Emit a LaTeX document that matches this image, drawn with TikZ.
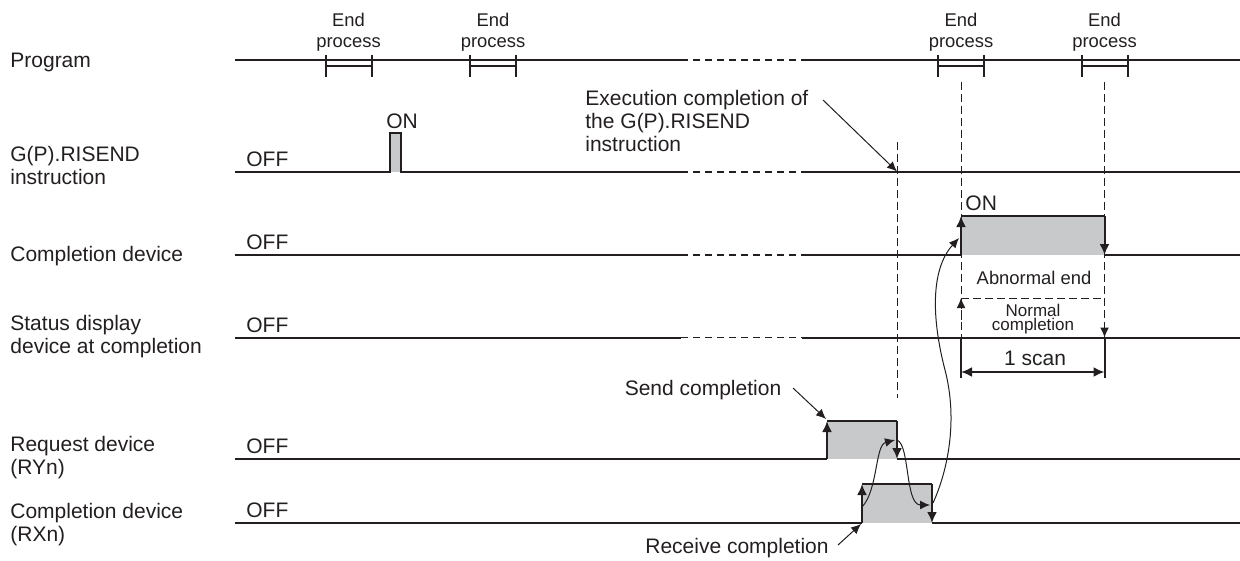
\documentclass[tikz,border=0pt]{standalone}
\usepackage{fontspec}
\setmainfont{Liberation Sans}
\usetikzlibrary{arrows.meta}
\definecolor{TLInk}{HTML}{231F20}
\definecolor{TLGray}{HTML}{C8C9CB}

\begin{document}
\begin{tikzpicture}[x=0.5pt,y=-0.5pt,
        sig/.style={draw=TLInk, line width=1pt},
        gap/.style={draw=TLInk, line width=0.6pt, dash pattern=on 3.5pt off 2.5pt},
        guide/.style={draw=TLInk, line width=0.5pt, dash pattern=on 4pt off 2pt},
        pulse/.style={fill=TLGray},
        edge/.style={draw=TLInk, line width=1pt, -{Latex[length=5.5pt,width=5pt]}},
        hint/.style={draw=TLInk, line width=0.5pt, -{Latex[length=5pt,width=4.4pt]}},
        lab/.style={font=\fontsize{10.5}{11.5}\selectfont, text=TLInk, inner sep=0pt, align=left},
        small/.style={font=\fontsize{9.2}{10.5}\selectfont, text=TLInk, inner sep=0pt, align=center},
      ]
      \useasboundingbox (0,0) rectangle (1240,561);
      \node[lab, anchor=west] (prog) at (10,62) {Program};
      \node[lab, anchor=west] (risend) at (10,165) {G(P).RISEND\\instruction};
      \node[lab, anchor=west] (cdev) at (10,256) {Completion device};
      \node[lab, anchor=west] (sdev) at (10,337) {Status display\\device at completion};
      \node[lab, anchor=west] (rydev) at (10,458) {Request device\\(RYn)};
      \node[lab, anchor=west] (rxdev) at (10,525) {Completion device\\(RXn)};
      \foreach \y/\n in {172/offG,255/offC,337.5/offS,459/offR,523/offX}
        \node[lab, anchor=base west] (\n) at (246,\y-5.5) {OFF};

      \draw[sig] (235,60) -- (681,60) (802,60) -- (1240,60);
      \draw[gap] (681,60) -- (802,60);
      \foreach \x/\n in {348.5/ep1,493/ep2,961/ep3,1104.5/ep4} {
        \draw[sig] (\x-23,55) -- (\x-23,77) (\x+23,55) -- (\x+23,77) (\x-23,66) -- (\x+23,66);
        \node[small] (\n) at (\x,32) {End\\process};
      }

      \fill[pulse] (390,133) rectangle (401,172);
      \draw[sig] (235,172) -- (390,172) -- (390,133) -- (401,133) -- (401,172) -- (681,172) (802,172) -- (1240,172);
      \draw[gap] (681,172) -- (802,172);
      \node[lab] (onG) at (402,121) {ON};

      \fill[pulse] (961,216) rectangle (1104.5,255);
      \draw[sig] (235,255) -- (681,255) (802,255) -- (961,255) (961,216) -- (1104.5,216) (1104.5,255) -- (1240,255);
      \draw[gap] (681,255) -- (802,255);
      \draw[edge] (961,255) -- (961,216);
      \draw[edge] (1104.5,216) -- (1104.5,255);
      \node[lab, anchor=west] (onC) at (965,203) {ON};

      \draw[sig] (235,337.5) -- (681,337.5) (802,337.5) -- (1240,337.5);
      \draw[gap] (681,337.5) -- (802,337.5);

      \draw[guide] (961,82) -- (961,337.5);
      \draw[guide] (1104.5,82) -- (1104.5,337.5);
      \draw[guide] (897,142) -- (897,398);
      \draw[guide] (961,298) -- (1104.5,298);
      \draw[guide, -{Latex[length=5pt,width=4.4pt]}] (961,320) -- (961,298);
      \draw[guide, -{Latex[length=5pt,width=4.4pt]}] (1104.5,310) -- (1104.5,337.5);
      \node[small] (abn) at (1034,278) {Abnormal end};
      \node[small, font=\fontsize{8.5}{7}\selectfont] (norm) at (1033,319) {Normal\\completion};

      \draw[sig] (961,337.5) -- (961,378) (1104.5,337.5) -- (1104.5,378);
      \draw[sig, {Latex[length=5.5pt,width=5pt]}-{Latex[length=5.5pt,width=5pt]}] (961,372) -- (1104.5,372);
      \node[lab] (scan) at (1035,358) {1 scan};

      \node[lab, anchor=north west] (exec) at (585,90) {Execution completion of\\the G(P).RISEND\\instruction};
      \coordinate (execTail) at (823,100);
      \coordinate (execHit) at (897,171.5);
      \draw[hint] (execTail) -- (execHit);

      \fill[pulse] (827,421) rectangle (897,459);
      \draw[sig] (235,459) -- (827,459) (827,421) -- (897,421) (897,459) -- (1240,459);
      \draw[edge] (827,459) -- (827,421);
      \draw[edge] (897,421) -- (897,459);

      \fill[pulse] (862,484) rectangle (932,523);
      \draw[sig] (235,523) -- (862,523) (862,484) -- (932,484) (932,523) -- (1240,523);
      \draw[edge] (862,523) -- (862,484);
      \draw[edge] (932,484) -- (932,523);

      \node[lab] (send) at (703,390) {Send completion};
      \coordinate (sendTail) at (793,388);
      \coordinate (sendHit) at (826,419);
      \draw[hint] (sendTail) -- (sendHit);
      \node[lab] (recv) at (737,548) {Receive completion};
      \coordinate (recvTail) at (838,545);
      \coordinate (recvHit) at (861,524);
      \draw[hint] (recvTail) -- (recvHit);

      \coordinate (xRise) at (862,507);
      \coordinate (rFallIn) at (895,440);
      \coordinate (rFallOut) at (897,440);
      \coordinate (xFallIn) at (930,505);
      \coordinate (xFallOut) at (933,503);
      \coordinate (cRise) at (959,238);
      \draw[hint] (xRise) .. controls (878,490) and (875,445) .. (rFallIn);
      \draw[hint] (rFallOut) .. controls (910,445) and (905,505) .. (xFallIn);
      \draw[hint] (xFallOut) .. controls (948,470) and (958,420) .. (945,370)
                   .. controls (932,320) and (930,270) .. (cRise);
    \end{tikzpicture}
\end{document}
